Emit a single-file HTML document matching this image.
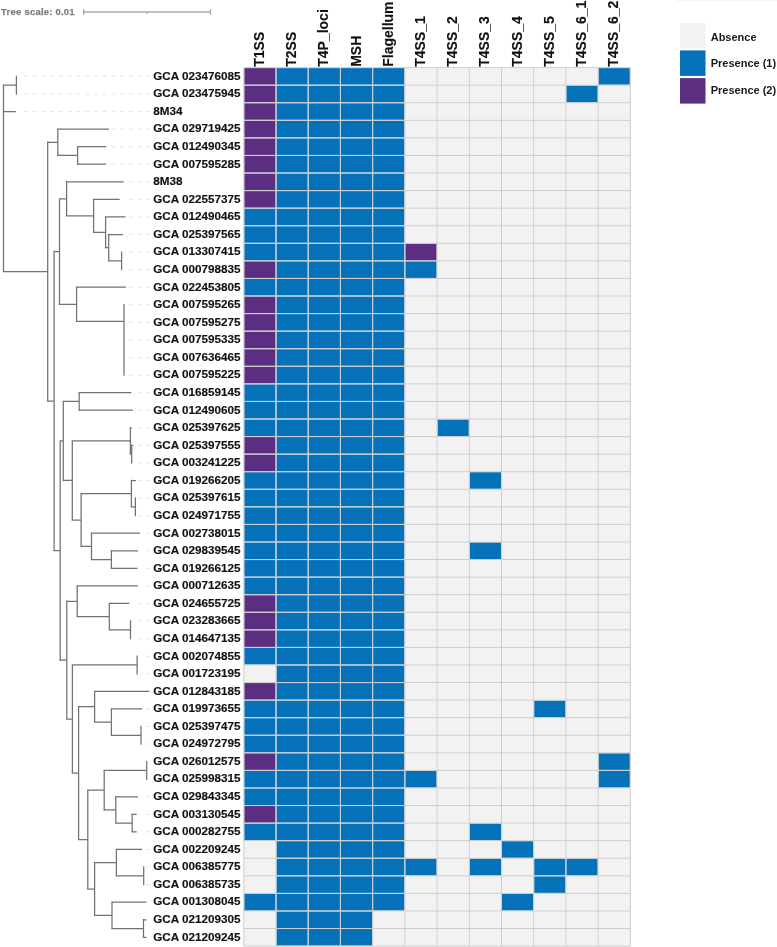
<!DOCTYPE html>
<html><head><meta charset="utf-8"><title>Secretion systems heatmap</title>
<style>html,body{margin:0;padding:0;background:#fff;}svg{display:block;will-change:transform;}text{font-family:"Liberation Sans",sans-serif;font-weight:bold;}</style>
</head><body>
<svg width="777" height="947" viewBox="0 0 777 947">
<rect x="676" y="0" width="101" height="1.2" fill="#f6f6f6"/>
<text x="1.1" y="14.9" font-size="9.5" letter-spacing="0.22" fill="#7f7f7f" stroke="#7f7f7f" stroke-width="0.25">Tree scale: 0.01</text>
<g stroke="#aaa" stroke-width="1.4" fill="none"><line x1="83.7" y1="12" x2="210.5" y2="12"/><line x1="83.7" y1="9.2" x2="83.7" y2="14.6"/><line x1="210.5" y1="9.2" x2="210.5" y2="14.6"/><line x1="146.8" y1="12" x2="146.8" y2="13.8"/></g>
<path d="M24.00 76.38H27.90M32.74 76.38H36.64M41.48 76.38H45.38M50.22 76.38H54.12M58.96 76.38H62.86M67.70 76.38H71.60M76.44 76.38H80.34M85.18 76.38H89.08M93.92 76.38H97.82M102.66 76.38H106.56M111.40 76.38H115.30M120.14 76.38H124.04M128.88 76.38H132.78M137.62 76.38H141.52M146.36 76.38H150.00M24.00 93.95H27.90M32.74 93.95H36.64M41.48 93.95H45.38M50.22 93.95H54.12M58.96 93.95H62.86M67.70 93.95H71.60M76.44 93.95H80.34M85.18 93.95H89.08M93.92 93.95H97.82M102.66 93.95H106.56M111.40 93.95H115.30M120.14 93.95H124.04M128.88 93.95H132.78M137.62 93.95H141.52M146.36 93.95H150.00M24.00 111.52H27.90M32.74 111.52H36.64M41.48 111.52H45.38M50.22 111.52H54.12M58.96 111.52H62.86M67.70 111.52H71.60M76.44 111.52H80.34M85.18 111.52H89.08M93.92 111.52H97.82M102.66 111.52H106.56M111.40 111.52H115.30M120.14 111.52H124.04M128.88 111.52H132.78M137.62 111.52H141.52M146.36 111.52H150.00M111.40 129.09H115.30M120.14 129.09H124.04M128.88 129.09H132.78M137.62 129.09H141.52M146.36 129.09H150.00M111.40 146.66H115.30M120.14 146.66H124.04M128.88 146.66H132.78M137.62 146.66H141.52M146.36 146.66H150.00M111.40 164.24H115.30M120.14 164.24H124.04M128.88 164.24H132.78M137.62 164.24H141.52M146.36 164.24H150.00M128.88 181.81H132.78M137.62 181.81H141.52M146.36 181.81H150.00M128.88 199.38H132.78M137.62 199.38H141.52M146.36 199.38H150.00M128.88 216.94H132.78M137.62 216.94H141.52M146.36 216.94H150.00M128.88 234.51H132.78M137.62 234.51H141.52M146.36 234.51H150.00M128.88 252.09H132.78M137.62 252.09H141.52M146.36 252.09H150.00M128.88 269.65H132.78M137.62 269.65H141.52M146.36 269.65H150.00M128.88 287.23H132.78M137.62 287.23H141.52M146.36 287.23H150.00M128.88 304.79H132.78M137.62 304.79H141.52M146.36 304.79H150.00M128.88 322.37H132.78M137.62 322.37H141.52M146.36 322.37H150.00M128.88 339.93H132.78M137.62 339.93H141.52M146.36 339.93H150.00M128.88 357.50H132.78M137.62 357.50H141.52M146.36 357.50H150.00M128.88 375.08H132.78M137.62 375.08H141.52M146.36 375.08H150.00M137.62 392.64H141.52M146.36 392.64H150.00M137.62 410.22H141.52M146.36 410.22H150.00M137.62 427.78H141.52M146.36 427.78H150.00M137.62 445.36H141.52M146.36 445.36H150.00M137.62 462.92H141.52M146.36 462.92H150.00M137.62 480.50H141.52M146.36 480.50H150.00M137.62 498.07H141.52M146.36 498.07H150.00M137.62 515.63H141.52M146.36 515.63H150.00M146.36 533.21H150.00M146.36 550.77H150.00M146.36 568.35H150.00M146.36 585.92H150.00M137.62 603.49H141.52M146.36 603.49H150.00M137.62 621.06H141.52M146.36 621.06H150.00M137.62 638.62H141.52M146.36 638.62H150.00M146.36 656.20H150.00M146.36 673.76H150.00M146.36 708.91H150.00M146.36 726.48H150.00M146.36 744.05H150.00M146.36 796.75H150.00M146.36 814.33H150.00M146.36 831.89H150.00M146.36 849.47H150.00M146.36 867.04H150.00M146.36 884.61H150.00" stroke="#e8e8e8" stroke-width="1.1" fill="none"/>
<path d="M16.40 75.68V94.66M2.80 85.17H16.40M2.80 111.52H15.80M57.10 129.09H109.10M76.90 146.66H106.20M76.90 164.24H106.20M77.60 145.97V164.94M57.10 155.45H77.60M57.80 128.40V156.15M47.00 142.27H57.80M65.90 181.81H123.60M92.90 199.38H119.70M104.90 216.94H125.50M108.00 234.51H123.00M121.60 251.39V270.35M108.00 260.87H121.60M108.70 233.81V261.57M104.90 247.69H108.70M105.60 216.25V248.39M92.90 232.32H105.60M93.60 198.68V233.02M65.90 215.85H93.60M66.60 181.11V216.55M58.80 198.83H66.60M75.90 287.23H125.90M124.00 356.81V375.78M124.00 339.23V366.99M124.00 321.67V353.81M124.00 304.09V338.44M75.90 321.27H124.00M76.60 286.53V321.97M58.80 304.25H76.60M59.50 198.13V304.95M53.40 251.54H59.50M78.50 392.64H131.30M78.50 410.22H132.80M79.20 391.94V410.92M62.60 401.43H79.20M129.70 427.78H131.70M131.00 445.36H133.40M131.00 462.92H132.20M131.70 444.66V463.62M129.70 454.14H131.70M130.40 427.08V454.84M71.60 440.96H130.40M130.70 480.50H135.90M135.40 497.37V516.34M130.70 506.85H135.40M131.40 479.80V507.55M80.40 493.67H131.40M90.80 533.21H140.00M110.70 550.77H138.00M110.70 568.35H137.50M111.40 550.07V569.05M90.80 559.56H111.40M91.50 532.50V560.26M80.40 546.38H91.50M81.10 492.97V547.08M71.60 520.03H81.10M72.30 440.26V520.73M62.60 480.49H72.30M63.30 400.73V481.19M59.50 440.96H63.30M76.50 585.92H138.00M108.60 603.49H129.30M130.50 620.36V639.33M108.60 629.84H130.50M109.30 602.78V630.54M76.50 616.66H109.30M77.20 585.22V617.36M66.10 601.29H77.20M137.10 655.50V674.47M71.70 664.98H137.10M93.90 691.34H149.40M110.70 708.91H142.20M141.00 725.77V744.75M110.70 735.26H141.00M111.40 708.21V735.96M93.90 722.08H111.40M94.60 690.63V722.78M77.90 706.71H94.60M146.70 760.91V779.89M103.50 770.40H146.70M115.10 796.75H138.00M131.50 814.33H136.70M131.50 831.89H136.70M132.20 813.62V832.60M115.10 823.11H132.20M115.80 796.05V823.81M103.50 809.93H115.80M104.20 769.70V810.63M87.10 790.17H104.20M115.70 849.47H142.10M143.70 866.34V885.31M115.70 875.82H143.70M116.40 848.76V876.52M93.90 862.64H116.40M111.30 902.18H146.50M142.80 919.75H146.50M142.80 937.32H146.50M143.50 919.04V938.02M111.30 928.53H143.50M112.00 901.48V929.23M93.90 915.35H112.00M94.60 861.94V916.05M87.10 889.00H94.60M87.80 789.47V889.70M77.90 839.58H87.80M78.60 706.01V840.28M71.70 773.15H78.60M72.40 664.28V773.85M66.10 719.06H72.40M66.80 600.59V719.76M59.50 660.18H66.80M60.20 440.26V660.88M53.40 550.57H60.20M54.10 250.84V551.27M47.00 401.05H54.10M47.70 141.57V401.75M2.80 271.66H47.70M3.50 84.47V272.36" stroke="#76716d" stroke-width="1.25" fill="none"/>
<g font-size="11.7" fill="#111" stroke="#111" stroke-width="0.15">
<text x="153.2" y="79.68">GCA 023476085</text>
<text x="153.2" y="97.25">GCA 023475945</text>
<text x="153.2" y="114.82">8M34</text>
<text x="153.2" y="132.40">GCA 029719425</text>
<text x="153.2" y="149.97">GCA 012490345</text>
<text x="153.2" y="167.54">GCA 007595285</text>
<text x="153.2" y="185.11">8M38</text>
<text x="153.2" y="202.68">GCA 022557375</text>
<text x="153.2" y="220.25">GCA 012490465</text>
<text x="153.2" y="237.81">GCA 025397565</text>
<text x="153.2" y="255.39">GCA 013307415</text>
<text x="153.2" y="272.95">GCA 000798835</text>
<text x="153.2" y="290.53">GCA 022453805</text>
<text x="153.2" y="308.09">GCA 007595265</text>
<text x="153.2" y="325.67">GCA 007595275</text>
<text x="153.2" y="343.23">GCA 007595335</text>
<text x="153.2" y="360.81">GCA 007636465</text>
<text x="153.2" y="378.38">GCA 007595225</text>
<text x="153.2" y="395.94">GCA 016859145</text>
<text x="153.2" y="413.52">GCA 012490605</text>
<text x="153.2" y="431.08">GCA 025397625</text>
<text x="153.2" y="448.66">GCA 025397555</text>
<text x="153.2" y="466.22">GCA 003241225</text>
<text x="153.2" y="483.80">GCA 019266205</text>
<text x="153.2" y="501.37">GCA 025397615</text>
<text x="153.2" y="518.93">GCA 024971755</text>
<text x="153.2" y="536.50">GCA 002738015</text>
<text x="153.2" y="554.07">GCA 029839545</text>
<text x="153.2" y="571.64">GCA 019266125</text>
<text x="153.2" y="589.22">GCA 000712635</text>
<text x="153.2" y="606.78">GCA 024655725</text>
<text x="153.2" y="624.36">GCA 023283665</text>
<text x="153.2" y="641.92">GCA 014647135</text>
<text x="153.2" y="659.50">GCA 002074855</text>
<text x="153.2" y="677.06">GCA 001723195</text>
<text x="153.2" y="694.63">GCA 012843185</text>
<text x="153.2" y="712.21">GCA 019973655</text>
<text x="153.2" y="729.77">GCA 025397475</text>
<text x="153.2" y="747.35">GCA 024972795</text>
<text x="153.2" y="764.91">GCA 026012575</text>
<text x="153.2" y="782.49">GCA 025998315</text>
<text x="153.2" y="800.05">GCA 029843345</text>
<text x="153.2" y="817.62">GCA 003130545</text>
<text x="153.2" y="835.19">GCA 000282755</text>
<text x="153.2" y="852.76">GCA 002209245</text>
<text x="153.2" y="870.34">GCA 006385775</text>
<text x="153.2" y="887.90">GCA 006385735</text>
<text x="153.2" y="905.48">GCA 001308045</text>
<text x="153.2" y="923.04">GCA 021209305</text>
<text x="153.2" y="940.62">GCA 021209245</text>
</g>
<g>
<rect x="244.30" y="68.10" width="31.21" height="16.57" fill="#5c2e81"/>
<rect x="276.51" y="68.10" width="31.21" height="16.57" fill="#0571b9"/>
<rect x="308.72" y="68.10" width="31.21" height="16.57" fill="#0571b9"/>
<rect x="340.93" y="68.10" width="31.21" height="16.57" fill="#0571b9"/>
<rect x="373.14" y="68.10" width="31.21" height="16.57" fill="#0571b9"/>
<rect x="405.35" y="68.10" width="31.21" height="16.57" fill="#f2f2f2"/>
<rect x="437.56" y="68.10" width="31.21" height="16.57" fill="#f2f2f2"/>
<rect x="469.77" y="68.10" width="31.21" height="16.57" fill="#f2f2f2"/>
<rect x="501.98" y="68.10" width="31.21" height="16.57" fill="#f2f2f2"/>
<rect x="534.19" y="68.10" width="31.21" height="16.57" fill="#f2f2f2"/>
<rect x="566.40" y="68.10" width="31.21" height="16.57" fill="#f2f2f2"/>
<rect x="598.61" y="68.10" width="31.21" height="16.57" fill="#0571b9"/>
<rect x="244.30" y="85.67" width="31.21" height="16.57" fill="#5c2e81"/>
<rect x="276.51" y="85.67" width="31.21" height="16.57" fill="#0571b9"/>
<rect x="308.72" y="85.67" width="31.21" height="16.57" fill="#0571b9"/>
<rect x="340.93" y="85.67" width="31.21" height="16.57" fill="#0571b9"/>
<rect x="373.14" y="85.67" width="31.21" height="16.57" fill="#0571b9"/>
<rect x="405.35" y="85.67" width="31.21" height="16.57" fill="#f2f2f2"/>
<rect x="437.56" y="85.67" width="31.21" height="16.57" fill="#f2f2f2"/>
<rect x="469.77" y="85.67" width="31.21" height="16.57" fill="#f2f2f2"/>
<rect x="501.98" y="85.67" width="31.21" height="16.57" fill="#f2f2f2"/>
<rect x="534.19" y="85.67" width="31.21" height="16.57" fill="#f2f2f2"/>
<rect x="566.40" y="85.67" width="31.21" height="16.57" fill="#0571b9"/>
<rect x="598.61" y="85.67" width="31.21" height="16.57" fill="#f2f2f2"/>
<rect x="244.30" y="103.24" width="31.21" height="16.57" fill="#5c2e81"/>
<rect x="276.51" y="103.24" width="31.21" height="16.57" fill="#0571b9"/>
<rect x="308.72" y="103.24" width="31.21" height="16.57" fill="#0571b9"/>
<rect x="340.93" y="103.24" width="31.21" height="16.57" fill="#0571b9"/>
<rect x="373.14" y="103.24" width="31.21" height="16.57" fill="#0571b9"/>
<rect x="405.35" y="103.24" width="31.21" height="16.57" fill="#f2f2f2"/>
<rect x="437.56" y="103.24" width="31.21" height="16.57" fill="#f2f2f2"/>
<rect x="469.77" y="103.24" width="31.21" height="16.57" fill="#f2f2f2"/>
<rect x="501.98" y="103.24" width="31.21" height="16.57" fill="#f2f2f2"/>
<rect x="534.19" y="103.24" width="31.21" height="16.57" fill="#f2f2f2"/>
<rect x="566.40" y="103.24" width="31.21" height="16.57" fill="#f2f2f2"/>
<rect x="598.61" y="103.24" width="31.21" height="16.57" fill="#f2f2f2"/>
<rect x="244.30" y="120.81" width="31.21" height="16.57" fill="#5c2e81"/>
<rect x="276.51" y="120.81" width="31.21" height="16.57" fill="#0571b9"/>
<rect x="308.72" y="120.81" width="31.21" height="16.57" fill="#0571b9"/>
<rect x="340.93" y="120.81" width="31.21" height="16.57" fill="#0571b9"/>
<rect x="373.14" y="120.81" width="31.21" height="16.57" fill="#0571b9"/>
<rect x="405.35" y="120.81" width="31.21" height="16.57" fill="#f2f2f2"/>
<rect x="437.56" y="120.81" width="31.21" height="16.57" fill="#f2f2f2"/>
<rect x="469.77" y="120.81" width="31.21" height="16.57" fill="#f2f2f2"/>
<rect x="501.98" y="120.81" width="31.21" height="16.57" fill="#f2f2f2"/>
<rect x="534.19" y="120.81" width="31.21" height="16.57" fill="#f2f2f2"/>
<rect x="566.40" y="120.81" width="31.21" height="16.57" fill="#f2f2f2"/>
<rect x="598.61" y="120.81" width="31.21" height="16.57" fill="#f2f2f2"/>
<rect x="244.30" y="138.38" width="31.21" height="16.57" fill="#5c2e81"/>
<rect x="276.51" y="138.38" width="31.21" height="16.57" fill="#0571b9"/>
<rect x="308.72" y="138.38" width="31.21" height="16.57" fill="#0571b9"/>
<rect x="340.93" y="138.38" width="31.21" height="16.57" fill="#0571b9"/>
<rect x="373.14" y="138.38" width="31.21" height="16.57" fill="#0571b9"/>
<rect x="405.35" y="138.38" width="31.21" height="16.57" fill="#f2f2f2"/>
<rect x="437.56" y="138.38" width="31.21" height="16.57" fill="#f2f2f2"/>
<rect x="469.77" y="138.38" width="31.21" height="16.57" fill="#f2f2f2"/>
<rect x="501.98" y="138.38" width="31.21" height="16.57" fill="#f2f2f2"/>
<rect x="534.19" y="138.38" width="31.21" height="16.57" fill="#f2f2f2"/>
<rect x="566.40" y="138.38" width="31.21" height="16.57" fill="#f2f2f2"/>
<rect x="598.61" y="138.38" width="31.21" height="16.57" fill="#f2f2f2"/>
<rect x="244.30" y="155.95" width="31.21" height="16.57" fill="#5c2e81"/>
<rect x="276.51" y="155.95" width="31.21" height="16.57" fill="#0571b9"/>
<rect x="308.72" y="155.95" width="31.21" height="16.57" fill="#0571b9"/>
<rect x="340.93" y="155.95" width="31.21" height="16.57" fill="#0571b9"/>
<rect x="373.14" y="155.95" width="31.21" height="16.57" fill="#0571b9"/>
<rect x="405.35" y="155.95" width="31.21" height="16.57" fill="#f2f2f2"/>
<rect x="437.56" y="155.95" width="31.21" height="16.57" fill="#f2f2f2"/>
<rect x="469.77" y="155.95" width="31.21" height="16.57" fill="#f2f2f2"/>
<rect x="501.98" y="155.95" width="31.21" height="16.57" fill="#f2f2f2"/>
<rect x="534.19" y="155.95" width="31.21" height="16.57" fill="#f2f2f2"/>
<rect x="566.40" y="155.95" width="31.21" height="16.57" fill="#f2f2f2"/>
<rect x="598.61" y="155.95" width="31.21" height="16.57" fill="#f2f2f2"/>
<rect x="244.30" y="173.52" width="31.21" height="16.57" fill="#5c2e81"/>
<rect x="276.51" y="173.52" width="31.21" height="16.57" fill="#0571b9"/>
<rect x="308.72" y="173.52" width="31.21" height="16.57" fill="#0571b9"/>
<rect x="340.93" y="173.52" width="31.21" height="16.57" fill="#0571b9"/>
<rect x="373.14" y="173.52" width="31.21" height="16.57" fill="#0571b9"/>
<rect x="405.35" y="173.52" width="31.21" height="16.57" fill="#f2f2f2"/>
<rect x="437.56" y="173.52" width="31.21" height="16.57" fill="#f2f2f2"/>
<rect x="469.77" y="173.52" width="31.21" height="16.57" fill="#f2f2f2"/>
<rect x="501.98" y="173.52" width="31.21" height="16.57" fill="#f2f2f2"/>
<rect x="534.19" y="173.52" width="31.21" height="16.57" fill="#f2f2f2"/>
<rect x="566.40" y="173.52" width="31.21" height="16.57" fill="#f2f2f2"/>
<rect x="598.61" y="173.52" width="31.21" height="16.57" fill="#f2f2f2"/>
<rect x="244.30" y="191.09" width="31.21" height="16.57" fill="#5c2e81"/>
<rect x="276.51" y="191.09" width="31.21" height="16.57" fill="#0571b9"/>
<rect x="308.72" y="191.09" width="31.21" height="16.57" fill="#0571b9"/>
<rect x="340.93" y="191.09" width="31.21" height="16.57" fill="#0571b9"/>
<rect x="373.14" y="191.09" width="31.21" height="16.57" fill="#0571b9"/>
<rect x="405.35" y="191.09" width="31.21" height="16.57" fill="#f2f2f2"/>
<rect x="437.56" y="191.09" width="31.21" height="16.57" fill="#f2f2f2"/>
<rect x="469.77" y="191.09" width="31.21" height="16.57" fill="#f2f2f2"/>
<rect x="501.98" y="191.09" width="31.21" height="16.57" fill="#f2f2f2"/>
<rect x="534.19" y="191.09" width="31.21" height="16.57" fill="#f2f2f2"/>
<rect x="566.40" y="191.09" width="31.21" height="16.57" fill="#f2f2f2"/>
<rect x="598.61" y="191.09" width="31.21" height="16.57" fill="#f2f2f2"/>
<rect x="244.30" y="208.66" width="31.21" height="16.57" fill="#0571b9"/>
<rect x="276.51" y="208.66" width="31.21" height="16.57" fill="#0571b9"/>
<rect x="308.72" y="208.66" width="31.21" height="16.57" fill="#0571b9"/>
<rect x="340.93" y="208.66" width="31.21" height="16.57" fill="#0571b9"/>
<rect x="373.14" y="208.66" width="31.21" height="16.57" fill="#0571b9"/>
<rect x="405.35" y="208.66" width="31.21" height="16.57" fill="#f2f2f2"/>
<rect x="437.56" y="208.66" width="31.21" height="16.57" fill="#f2f2f2"/>
<rect x="469.77" y="208.66" width="31.21" height="16.57" fill="#f2f2f2"/>
<rect x="501.98" y="208.66" width="31.21" height="16.57" fill="#f2f2f2"/>
<rect x="534.19" y="208.66" width="31.21" height="16.57" fill="#f2f2f2"/>
<rect x="566.40" y="208.66" width="31.21" height="16.57" fill="#f2f2f2"/>
<rect x="598.61" y="208.66" width="31.21" height="16.57" fill="#f2f2f2"/>
<rect x="244.30" y="226.23" width="31.21" height="16.57" fill="#0571b9"/>
<rect x="276.51" y="226.23" width="31.21" height="16.57" fill="#0571b9"/>
<rect x="308.72" y="226.23" width="31.21" height="16.57" fill="#0571b9"/>
<rect x="340.93" y="226.23" width="31.21" height="16.57" fill="#0571b9"/>
<rect x="373.14" y="226.23" width="31.21" height="16.57" fill="#0571b9"/>
<rect x="405.35" y="226.23" width="31.21" height="16.57" fill="#f2f2f2"/>
<rect x="437.56" y="226.23" width="31.21" height="16.57" fill="#f2f2f2"/>
<rect x="469.77" y="226.23" width="31.21" height="16.57" fill="#f2f2f2"/>
<rect x="501.98" y="226.23" width="31.21" height="16.57" fill="#f2f2f2"/>
<rect x="534.19" y="226.23" width="31.21" height="16.57" fill="#f2f2f2"/>
<rect x="566.40" y="226.23" width="31.21" height="16.57" fill="#f2f2f2"/>
<rect x="598.61" y="226.23" width="31.21" height="16.57" fill="#f2f2f2"/>
<rect x="244.30" y="243.80" width="31.21" height="16.57" fill="#0571b9"/>
<rect x="276.51" y="243.80" width="31.21" height="16.57" fill="#0571b9"/>
<rect x="308.72" y="243.80" width="31.21" height="16.57" fill="#0571b9"/>
<rect x="340.93" y="243.80" width="31.21" height="16.57" fill="#0571b9"/>
<rect x="373.14" y="243.80" width="31.21" height="16.57" fill="#0571b9"/>
<rect x="405.35" y="243.80" width="31.21" height="16.57" fill="#5c2e81"/>
<rect x="437.56" y="243.80" width="31.21" height="16.57" fill="#f2f2f2"/>
<rect x="469.77" y="243.80" width="31.21" height="16.57" fill="#f2f2f2"/>
<rect x="501.98" y="243.80" width="31.21" height="16.57" fill="#f2f2f2"/>
<rect x="534.19" y="243.80" width="31.21" height="16.57" fill="#f2f2f2"/>
<rect x="566.40" y="243.80" width="31.21" height="16.57" fill="#f2f2f2"/>
<rect x="598.61" y="243.80" width="31.21" height="16.57" fill="#f2f2f2"/>
<rect x="244.30" y="261.37" width="31.21" height="16.57" fill="#5c2e81"/>
<rect x="276.51" y="261.37" width="31.21" height="16.57" fill="#0571b9"/>
<rect x="308.72" y="261.37" width="31.21" height="16.57" fill="#0571b9"/>
<rect x="340.93" y="261.37" width="31.21" height="16.57" fill="#0571b9"/>
<rect x="373.14" y="261.37" width="31.21" height="16.57" fill="#0571b9"/>
<rect x="405.35" y="261.37" width="31.21" height="16.57" fill="#0571b9"/>
<rect x="437.56" y="261.37" width="31.21" height="16.57" fill="#f2f2f2"/>
<rect x="469.77" y="261.37" width="31.21" height="16.57" fill="#f2f2f2"/>
<rect x="501.98" y="261.37" width="31.21" height="16.57" fill="#f2f2f2"/>
<rect x="534.19" y="261.37" width="31.21" height="16.57" fill="#f2f2f2"/>
<rect x="566.40" y="261.37" width="31.21" height="16.57" fill="#f2f2f2"/>
<rect x="598.61" y="261.37" width="31.21" height="16.57" fill="#f2f2f2"/>
<rect x="244.30" y="278.94" width="31.21" height="16.57" fill="#0571b9"/>
<rect x="276.51" y="278.94" width="31.21" height="16.57" fill="#0571b9"/>
<rect x="308.72" y="278.94" width="31.21" height="16.57" fill="#0571b9"/>
<rect x="340.93" y="278.94" width="31.21" height="16.57" fill="#0571b9"/>
<rect x="373.14" y="278.94" width="31.21" height="16.57" fill="#0571b9"/>
<rect x="405.35" y="278.94" width="31.21" height="16.57" fill="#f2f2f2"/>
<rect x="437.56" y="278.94" width="31.21" height="16.57" fill="#f2f2f2"/>
<rect x="469.77" y="278.94" width="31.21" height="16.57" fill="#f2f2f2"/>
<rect x="501.98" y="278.94" width="31.21" height="16.57" fill="#f2f2f2"/>
<rect x="534.19" y="278.94" width="31.21" height="16.57" fill="#f2f2f2"/>
<rect x="566.40" y="278.94" width="31.21" height="16.57" fill="#f2f2f2"/>
<rect x="598.61" y="278.94" width="31.21" height="16.57" fill="#f2f2f2"/>
<rect x="244.30" y="296.51" width="31.21" height="16.57" fill="#5c2e81"/>
<rect x="276.51" y="296.51" width="31.21" height="16.57" fill="#0571b9"/>
<rect x="308.72" y="296.51" width="31.21" height="16.57" fill="#0571b9"/>
<rect x="340.93" y="296.51" width="31.21" height="16.57" fill="#0571b9"/>
<rect x="373.14" y="296.51" width="31.21" height="16.57" fill="#0571b9"/>
<rect x="405.35" y="296.51" width="31.21" height="16.57" fill="#f2f2f2"/>
<rect x="437.56" y="296.51" width="31.21" height="16.57" fill="#f2f2f2"/>
<rect x="469.77" y="296.51" width="31.21" height="16.57" fill="#f2f2f2"/>
<rect x="501.98" y="296.51" width="31.21" height="16.57" fill="#f2f2f2"/>
<rect x="534.19" y="296.51" width="31.21" height="16.57" fill="#f2f2f2"/>
<rect x="566.40" y="296.51" width="31.21" height="16.57" fill="#f2f2f2"/>
<rect x="598.61" y="296.51" width="31.21" height="16.57" fill="#f2f2f2"/>
<rect x="244.30" y="314.08" width="31.21" height="16.57" fill="#5c2e81"/>
<rect x="276.51" y="314.08" width="31.21" height="16.57" fill="#0571b9"/>
<rect x="308.72" y="314.08" width="31.21" height="16.57" fill="#0571b9"/>
<rect x="340.93" y="314.08" width="31.21" height="16.57" fill="#0571b9"/>
<rect x="373.14" y="314.08" width="31.21" height="16.57" fill="#0571b9"/>
<rect x="405.35" y="314.08" width="31.21" height="16.57" fill="#f2f2f2"/>
<rect x="437.56" y="314.08" width="31.21" height="16.57" fill="#f2f2f2"/>
<rect x="469.77" y="314.08" width="31.21" height="16.57" fill="#f2f2f2"/>
<rect x="501.98" y="314.08" width="31.21" height="16.57" fill="#f2f2f2"/>
<rect x="534.19" y="314.08" width="31.21" height="16.57" fill="#f2f2f2"/>
<rect x="566.40" y="314.08" width="31.21" height="16.57" fill="#f2f2f2"/>
<rect x="598.61" y="314.08" width="31.21" height="16.57" fill="#f2f2f2"/>
<rect x="244.30" y="331.65" width="31.21" height="16.57" fill="#5c2e81"/>
<rect x="276.51" y="331.65" width="31.21" height="16.57" fill="#0571b9"/>
<rect x="308.72" y="331.65" width="31.21" height="16.57" fill="#0571b9"/>
<rect x="340.93" y="331.65" width="31.21" height="16.57" fill="#0571b9"/>
<rect x="373.14" y="331.65" width="31.21" height="16.57" fill="#0571b9"/>
<rect x="405.35" y="331.65" width="31.21" height="16.57" fill="#f2f2f2"/>
<rect x="437.56" y="331.65" width="31.21" height="16.57" fill="#f2f2f2"/>
<rect x="469.77" y="331.65" width="31.21" height="16.57" fill="#f2f2f2"/>
<rect x="501.98" y="331.65" width="31.21" height="16.57" fill="#f2f2f2"/>
<rect x="534.19" y="331.65" width="31.21" height="16.57" fill="#f2f2f2"/>
<rect x="566.40" y="331.65" width="31.21" height="16.57" fill="#f2f2f2"/>
<rect x="598.61" y="331.65" width="31.21" height="16.57" fill="#f2f2f2"/>
<rect x="244.30" y="349.22" width="31.21" height="16.57" fill="#5c2e81"/>
<rect x="276.51" y="349.22" width="31.21" height="16.57" fill="#0571b9"/>
<rect x="308.72" y="349.22" width="31.21" height="16.57" fill="#0571b9"/>
<rect x="340.93" y="349.22" width="31.21" height="16.57" fill="#0571b9"/>
<rect x="373.14" y="349.22" width="31.21" height="16.57" fill="#0571b9"/>
<rect x="405.35" y="349.22" width="31.21" height="16.57" fill="#f2f2f2"/>
<rect x="437.56" y="349.22" width="31.21" height="16.57" fill="#f2f2f2"/>
<rect x="469.77" y="349.22" width="31.21" height="16.57" fill="#f2f2f2"/>
<rect x="501.98" y="349.22" width="31.21" height="16.57" fill="#f2f2f2"/>
<rect x="534.19" y="349.22" width="31.21" height="16.57" fill="#f2f2f2"/>
<rect x="566.40" y="349.22" width="31.21" height="16.57" fill="#f2f2f2"/>
<rect x="598.61" y="349.22" width="31.21" height="16.57" fill="#f2f2f2"/>
<rect x="244.30" y="366.79" width="31.21" height="16.57" fill="#5c2e81"/>
<rect x="276.51" y="366.79" width="31.21" height="16.57" fill="#0571b9"/>
<rect x="308.72" y="366.79" width="31.21" height="16.57" fill="#0571b9"/>
<rect x="340.93" y="366.79" width="31.21" height="16.57" fill="#0571b9"/>
<rect x="373.14" y="366.79" width="31.21" height="16.57" fill="#0571b9"/>
<rect x="405.35" y="366.79" width="31.21" height="16.57" fill="#f2f2f2"/>
<rect x="437.56" y="366.79" width="31.21" height="16.57" fill="#f2f2f2"/>
<rect x="469.77" y="366.79" width="31.21" height="16.57" fill="#f2f2f2"/>
<rect x="501.98" y="366.79" width="31.21" height="16.57" fill="#f2f2f2"/>
<rect x="534.19" y="366.79" width="31.21" height="16.57" fill="#f2f2f2"/>
<rect x="566.40" y="366.79" width="31.21" height="16.57" fill="#f2f2f2"/>
<rect x="598.61" y="366.79" width="31.21" height="16.57" fill="#f2f2f2"/>
<rect x="244.30" y="384.36" width="31.21" height="16.57" fill="#0571b9"/>
<rect x="276.51" y="384.36" width="31.21" height="16.57" fill="#0571b9"/>
<rect x="308.72" y="384.36" width="31.21" height="16.57" fill="#0571b9"/>
<rect x="340.93" y="384.36" width="31.21" height="16.57" fill="#0571b9"/>
<rect x="373.14" y="384.36" width="31.21" height="16.57" fill="#0571b9"/>
<rect x="405.35" y="384.36" width="31.21" height="16.57" fill="#f2f2f2"/>
<rect x="437.56" y="384.36" width="31.21" height="16.57" fill="#f2f2f2"/>
<rect x="469.77" y="384.36" width="31.21" height="16.57" fill="#f2f2f2"/>
<rect x="501.98" y="384.36" width="31.21" height="16.57" fill="#f2f2f2"/>
<rect x="534.19" y="384.36" width="31.21" height="16.57" fill="#f2f2f2"/>
<rect x="566.40" y="384.36" width="31.21" height="16.57" fill="#f2f2f2"/>
<rect x="598.61" y="384.36" width="31.21" height="16.57" fill="#f2f2f2"/>
<rect x="244.30" y="401.93" width="31.21" height="16.57" fill="#0571b9"/>
<rect x="276.51" y="401.93" width="31.21" height="16.57" fill="#0571b9"/>
<rect x="308.72" y="401.93" width="31.21" height="16.57" fill="#0571b9"/>
<rect x="340.93" y="401.93" width="31.21" height="16.57" fill="#0571b9"/>
<rect x="373.14" y="401.93" width="31.21" height="16.57" fill="#0571b9"/>
<rect x="405.35" y="401.93" width="31.21" height="16.57" fill="#f2f2f2"/>
<rect x="437.56" y="401.93" width="31.21" height="16.57" fill="#f2f2f2"/>
<rect x="469.77" y="401.93" width="31.21" height="16.57" fill="#f2f2f2"/>
<rect x="501.98" y="401.93" width="31.21" height="16.57" fill="#f2f2f2"/>
<rect x="534.19" y="401.93" width="31.21" height="16.57" fill="#f2f2f2"/>
<rect x="566.40" y="401.93" width="31.21" height="16.57" fill="#f2f2f2"/>
<rect x="598.61" y="401.93" width="31.21" height="16.57" fill="#f2f2f2"/>
<rect x="244.30" y="419.50" width="31.21" height="16.57" fill="#0571b9"/>
<rect x="276.51" y="419.50" width="31.21" height="16.57" fill="#0571b9"/>
<rect x="308.72" y="419.50" width="31.21" height="16.57" fill="#0571b9"/>
<rect x="340.93" y="419.50" width="31.21" height="16.57" fill="#0571b9"/>
<rect x="373.14" y="419.50" width="31.21" height="16.57" fill="#0571b9"/>
<rect x="405.35" y="419.50" width="31.21" height="16.57" fill="#f2f2f2"/>
<rect x="437.56" y="419.50" width="31.21" height="16.57" fill="#0571b9"/>
<rect x="469.77" y="419.50" width="31.21" height="16.57" fill="#f2f2f2"/>
<rect x="501.98" y="419.50" width="31.21" height="16.57" fill="#f2f2f2"/>
<rect x="534.19" y="419.50" width="31.21" height="16.57" fill="#f2f2f2"/>
<rect x="566.40" y="419.50" width="31.21" height="16.57" fill="#f2f2f2"/>
<rect x="598.61" y="419.50" width="31.21" height="16.57" fill="#f2f2f2"/>
<rect x="244.30" y="437.07" width="31.21" height="16.57" fill="#5c2e81"/>
<rect x="276.51" y="437.07" width="31.21" height="16.57" fill="#0571b9"/>
<rect x="308.72" y="437.07" width="31.21" height="16.57" fill="#0571b9"/>
<rect x="340.93" y="437.07" width="31.21" height="16.57" fill="#0571b9"/>
<rect x="373.14" y="437.07" width="31.21" height="16.57" fill="#0571b9"/>
<rect x="405.35" y="437.07" width="31.21" height="16.57" fill="#f2f2f2"/>
<rect x="437.56" y="437.07" width="31.21" height="16.57" fill="#f2f2f2"/>
<rect x="469.77" y="437.07" width="31.21" height="16.57" fill="#f2f2f2"/>
<rect x="501.98" y="437.07" width="31.21" height="16.57" fill="#f2f2f2"/>
<rect x="534.19" y="437.07" width="31.21" height="16.57" fill="#f2f2f2"/>
<rect x="566.40" y="437.07" width="31.21" height="16.57" fill="#f2f2f2"/>
<rect x="598.61" y="437.07" width="31.21" height="16.57" fill="#f2f2f2"/>
<rect x="244.30" y="454.64" width="31.21" height="16.57" fill="#5c2e81"/>
<rect x="276.51" y="454.64" width="31.21" height="16.57" fill="#0571b9"/>
<rect x="308.72" y="454.64" width="31.21" height="16.57" fill="#0571b9"/>
<rect x="340.93" y="454.64" width="31.21" height="16.57" fill="#0571b9"/>
<rect x="373.14" y="454.64" width="31.21" height="16.57" fill="#0571b9"/>
<rect x="405.35" y="454.64" width="31.21" height="16.57" fill="#f2f2f2"/>
<rect x="437.56" y="454.64" width="31.21" height="16.57" fill="#f2f2f2"/>
<rect x="469.77" y="454.64" width="31.21" height="16.57" fill="#f2f2f2"/>
<rect x="501.98" y="454.64" width="31.21" height="16.57" fill="#f2f2f2"/>
<rect x="534.19" y="454.64" width="31.21" height="16.57" fill="#f2f2f2"/>
<rect x="566.40" y="454.64" width="31.21" height="16.57" fill="#f2f2f2"/>
<rect x="598.61" y="454.64" width="31.21" height="16.57" fill="#f2f2f2"/>
<rect x="244.30" y="472.21" width="31.21" height="16.57" fill="#0571b9"/>
<rect x="276.51" y="472.21" width="31.21" height="16.57" fill="#0571b9"/>
<rect x="308.72" y="472.21" width="31.21" height="16.57" fill="#0571b9"/>
<rect x="340.93" y="472.21" width="31.21" height="16.57" fill="#0571b9"/>
<rect x="373.14" y="472.21" width="31.21" height="16.57" fill="#0571b9"/>
<rect x="405.35" y="472.21" width="31.21" height="16.57" fill="#f2f2f2"/>
<rect x="437.56" y="472.21" width="31.21" height="16.57" fill="#f2f2f2"/>
<rect x="469.77" y="472.21" width="31.21" height="16.57" fill="#0571b9"/>
<rect x="501.98" y="472.21" width="31.21" height="16.57" fill="#f2f2f2"/>
<rect x="534.19" y="472.21" width="31.21" height="16.57" fill="#f2f2f2"/>
<rect x="566.40" y="472.21" width="31.21" height="16.57" fill="#f2f2f2"/>
<rect x="598.61" y="472.21" width="31.21" height="16.57" fill="#f2f2f2"/>
<rect x="244.30" y="489.78" width="31.21" height="16.57" fill="#0571b9"/>
<rect x="276.51" y="489.78" width="31.21" height="16.57" fill="#0571b9"/>
<rect x="308.72" y="489.78" width="31.21" height="16.57" fill="#0571b9"/>
<rect x="340.93" y="489.78" width="31.21" height="16.57" fill="#0571b9"/>
<rect x="373.14" y="489.78" width="31.21" height="16.57" fill="#0571b9"/>
<rect x="405.35" y="489.78" width="31.21" height="16.57" fill="#f2f2f2"/>
<rect x="437.56" y="489.78" width="31.21" height="16.57" fill="#f2f2f2"/>
<rect x="469.77" y="489.78" width="31.21" height="16.57" fill="#f2f2f2"/>
<rect x="501.98" y="489.78" width="31.21" height="16.57" fill="#f2f2f2"/>
<rect x="534.19" y="489.78" width="31.21" height="16.57" fill="#f2f2f2"/>
<rect x="566.40" y="489.78" width="31.21" height="16.57" fill="#f2f2f2"/>
<rect x="598.61" y="489.78" width="31.21" height="16.57" fill="#f2f2f2"/>
<rect x="244.30" y="507.35" width="31.21" height="16.57" fill="#0571b9"/>
<rect x="276.51" y="507.35" width="31.21" height="16.57" fill="#0571b9"/>
<rect x="308.72" y="507.35" width="31.21" height="16.57" fill="#0571b9"/>
<rect x="340.93" y="507.35" width="31.21" height="16.57" fill="#0571b9"/>
<rect x="373.14" y="507.35" width="31.21" height="16.57" fill="#0571b9"/>
<rect x="405.35" y="507.35" width="31.21" height="16.57" fill="#f2f2f2"/>
<rect x="437.56" y="507.35" width="31.21" height="16.57" fill="#f2f2f2"/>
<rect x="469.77" y="507.35" width="31.21" height="16.57" fill="#f2f2f2"/>
<rect x="501.98" y="507.35" width="31.21" height="16.57" fill="#f2f2f2"/>
<rect x="534.19" y="507.35" width="31.21" height="16.57" fill="#f2f2f2"/>
<rect x="566.40" y="507.35" width="31.21" height="16.57" fill="#f2f2f2"/>
<rect x="598.61" y="507.35" width="31.21" height="16.57" fill="#f2f2f2"/>
<rect x="244.30" y="524.92" width="31.21" height="16.57" fill="#0571b9"/>
<rect x="276.51" y="524.92" width="31.21" height="16.57" fill="#0571b9"/>
<rect x="308.72" y="524.92" width="31.21" height="16.57" fill="#0571b9"/>
<rect x="340.93" y="524.92" width="31.21" height="16.57" fill="#0571b9"/>
<rect x="373.14" y="524.92" width="31.21" height="16.57" fill="#0571b9"/>
<rect x="405.35" y="524.92" width="31.21" height="16.57" fill="#f2f2f2"/>
<rect x="437.56" y="524.92" width="31.21" height="16.57" fill="#f2f2f2"/>
<rect x="469.77" y="524.92" width="31.21" height="16.57" fill="#f2f2f2"/>
<rect x="501.98" y="524.92" width="31.21" height="16.57" fill="#f2f2f2"/>
<rect x="534.19" y="524.92" width="31.21" height="16.57" fill="#f2f2f2"/>
<rect x="566.40" y="524.92" width="31.21" height="16.57" fill="#f2f2f2"/>
<rect x="598.61" y="524.92" width="31.21" height="16.57" fill="#f2f2f2"/>
<rect x="244.30" y="542.49" width="31.21" height="16.57" fill="#0571b9"/>
<rect x="276.51" y="542.49" width="31.21" height="16.57" fill="#0571b9"/>
<rect x="308.72" y="542.49" width="31.21" height="16.57" fill="#0571b9"/>
<rect x="340.93" y="542.49" width="31.21" height="16.57" fill="#0571b9"/>
<rect x="373.14" y="542.49" width="31.21" height="16.57" fill="#0571b9"/>
<rect x="405.35" y="542.49" width="31.21" height="16.57" fill="#f2f2f2"/>
<rect x="437.56" y="542.49" width="31.21" height="16.57" fill="#f2f2f2"/>
<rect x="469.77" y="542.49" width="31.21" height="16.57" fill="#0571b9"/>
<rect x="501.98" y="542.49" width="31.21" height="16.57" fill="#f2f2f2"/>
<rect x="534.19" y="542.49" width="31.21" height="16.57" fill="#f2f2f2"/>
<rect x="566.40" y="542.49" width="31.21" height="16.57" fill="#f2f2f2"/>
<rect x="598.61" y="542.49" width="31.21" height="16.57" fill="#f2f2f2"/>
<rect x="244.30" y="560.06" width="31.21" height="16.57" fill="#0571b9"/>
<rect x="276.51" y="560.06" width="31.21" height="16.57" fill="#0571b9"/>
<rect x="308.72" y="560.06" width="31.21" height="16.57" fill="#0571b9"/>
<rect x="340.93" y="560.06" width="31.21" height="16.57" fill="#0571b9"/>
<rect x="373.14" y="560.06" width="31.21" height="16.57" fill="#0571b9"/>
<rect x="405.35" y="560.06" width="31.21" height="16.57" fill="#f2f2f2"/>
<rect x="437.56" y="560.06" width="31.21" height="16.57" fill="#f2f2f2"/>
<rect x="469.77" y="560.06" width="31.21" height="16.57" fill="#f2f2f2"/>
<rect x="501.98" y="560.06" width="31.21" height="16.57" fill="#f2f2f2"/>
<rect x="534.19" y="560.06" width="31.21" height="16.57" fill="#f2f2f2"/>
<rect x="566.40" y="560.06" width="31.21" height="16.57" fill="#f2f2f2"/>
<rect x="598.61" y="560.06" width="31.21" height="16.57" fill="#f2f2f2"/>
<rect x="244.30" y="577.63" width="31.21" height="16.57" fill="#0571b9"/>
<rect x="276.51" y="577.63" width="31.21" height="16.57" fill="#0571b9"/>
<rect x="308.72" y="577.63" width="31.21" height="16.57" fill="#0571b9"/>
<rect x="340.93" y="577.63" width="31.21" height="16.57" fill="#0571b9"/>
<rect x="373.14" y="577.63" width="31.21" height="16.57" fill="#0571b9"/>
<rect x="405.35" y="577.63" width="31.21" height="16.57" fill="#f2f2f2"/>
<rect x="437.56" y="577.63" width="31.21" height="16.57" fill="#f2f2f2"/>
<rect x="469.77" y="577.63" width="31.21" height="16.57" fill="#f2f2f2"/>
<rect x="501.98" y="577.63" width="31.21" height="16.57" fill="#f2f2f2"/>
<rect x="534.19" y="577.63" width="31.21" height="16.57" fill="#f2f2f2"/>
<rect x="566.40" y="577.63" width="31.21" height="16.57" fill="#f2f2f2"/>
<rect x="598.61" y="577.63" width="31.21" height="16.57" fill="#f2f2f2"/>
<rect x="244.30" y="595.20" width="31.21" height="16.57" fill="#5c2e81"/>
<rect x="276.51" y="595.20" width="31.21" height="16.57" fill="#0571b9"/>
<rect x="308.72" y="595.20" width="31.21" height="16.57" fill="#0571b9"/>
<rect x="340.93" y="595.20" width="31.21" height="16.57" fill="#0571b9"/>
<rect x="373.14" y="595.20" width="31.21" height="16.57" fill="#0571b9"/>
<rect x="405.35" y="595.20" width="31.21" height="16.57" fill="#f2f2f2"/>
<rect x="437.56" y="595.20" width="31.21" height="16.57" fill="#f2f2f2"/>
<rect x="469.77" y="595.20" width="31.21" height="16.57" fill="#f2f2f2"/>
<rect x="501.98" y="595.20" width="31.21" height="16.57" fill="#f2f2f2"/>
<rect x="534.19" y="595.20" width="31.21" height="16.57" fill="#f2f2f2"/>
<rect x="566.40" y="595.20" width="31.21" height="16.57" fill="#f2f2f2"/>
<rect x="598.61" y="595.20" width="31.21" height="16.57" fill="#f2f2f2"/>
<rect x="244.30" y="612.77" width="31.21" height="16.57" fill="#5c2e81"/>
<rect x="276.51" y="612.77" width="31.21" height="16.57" fill="#0571b9"/>
<rect x="308.72" y="612.77" width="31.21" height="16.57" fill="#0571b9"/>
<rect x="340.93" y="612.77" width="31.21" height="16.57" fill="#0571b9"/>
<rect x="373.14" y="612.77" width="31.21" height="16.57" fill="#0571b9"/>
<rect x="405.35" y="612.77" width="31.21" height="16.57" fill="#f2f2f2"/>
<rect x="437.56" y="612.77" width="31.21" height="16.57" fill="#f2f2f2"/>
<rect x="469.77" y="612.77" width="31.21" height="16.57" fill="#f2f2f2"/>
<rect x="501.98" y="612.77" width="31.21" height="16.57" fill="#f2f2f2"/>
<rect x="534.19" y="612.77" width="31.21" height="16.57" fill="#f2f2f2"/>
<rect x="566.40" y="612.77" width="31.21" height="16.57" fill="#f2f2f2"/>
<rect x="598.61" y="612.77" width="31.21" height="16.57" fill="#f2f2f2"/>
<rect x="244.30" y="630.34" width="31.21" height="16.57" fill="#5c2e81"/>
<rect x="276.51" y="630.34" width="31.21" height="16.57" fill="#0571b9"/>
<rect x="308.72" y="630.34" width="31.21" height="16.57" fill="#0571b9"/>
<rect x="340.93" y="630.34" width="31.21" height="16.57" fill="#0571b9"/>
<rect x="373.14" y="630.34" width="31.21" height="16.57" fill="#0571b9"/>
<rect x="405.35" y="630.34" width="31.21" height="16.57" fill="#f2f2f2"/>
<rect x="437.56" y="630.34" width="31.21" height="16.57" fill="#f2f2f2"/>
<rect x="469.77" y="630.34" width="31.21" height="16.57" fill="#f2f2f2"/>
<rect x="501.98" y="630.34" width="31.21" height="16.57" fill="#f2f2f2"/>
<rect x="534.19" y="630.34" width="31.21" height="16.57" fill="#f2f2f2"/>
<rect x="566.40" y="630.34" width="31.21" height="16.57" fill="#f2f2f2"/>
<rect x="598.61" y="630.34" width="31.21" height="16.57" fill="#f2f2f2"/>
<rect x="244.30" y="647.91" width="31.21" height="16.57" fill="#0571b9"/>
<rect x="276.51" y="647.91" width="31.21" height="16.57" fill="#0571b9"/>
<rect x="308.72" y="647.91" width="31.21" height="16.57" fill="#0571b9"/>
<rect x="340.93" y="647.91" width="31.21" height="16.57" fill="#0571b9"/>
<rect x="373.14" y="647.91" width="31.21" height="16.57" fill="#0571b9"/>
<rect x="405.35" y="647.91" width="31.21" height="16.57" fill="#f2f2f2"/>
<rect x="437.56" y="647.91" width="31.21" height="16.57" fill="#f2f2f2"/>
<rect x="469.77" y="647.91" width="31.21" height="16.57" fill="#f2f2f2"/>
<rect x="501.98" y="647.91" width="31.21" height="16.57" fill="#f2f2f2"/>
<rect x="534.19" y="647.91" width="31.21" height="16.57" fill="#f2f2f2"/>
<rect x="566.40" y="647.91" width="31.21" height="16.57" fill="#f2f2f2"/>
<rect x="598.61" y="647.91" width="31.21" height="16.57" fill="#f2f2f2"/>
<rect x="244.30" y="665.48" width="31.21" height="16.57" fill="#f2f2f2"/>
<rect x="276.51" y="665.48" width="31.21" height="16.57" fill="#0571b9"/>
<rect x="308.72" y="665.48" width="31.21" height="16.57" fill="#0571b9"/>
<rect x="340.93" y="665.48" width="31.21" height="16.57" fill="#0571b9"/>
<rect x="373.14" y="665.48" width="31.21" height="16.57" fill="#0571b9"/>
<rect x="405.35" y="665.48" width="31.21" height="16.57" fill="#f2f2f2"/>
<rect x="437.56" y="665.48" width="31.21" height="16.57" fill="#f2f2f2"/>
<rect x="469.77" y="665.48" width="31.21" height="16.57" fill="#f2f2f2"/>
<rect x="501.98" y="665.48" width="31.21" height="16.57" fill="#f2f2f2"/>
<rect x="534.19" y="665.48" width="31.21" height="16.57" fill="#f2f2f2"/>
<rect x="566.40" y="665.48" width="31.21" height="16.57" fill="#f2f2f2"/>
<rect x="598.61" y="665.48" width="31.21" height="16.57" fill="#f2f2f2"/>
<rect x="244.30" y="683.05" width="31.21" height="16.57" fill="#5c2e81"/>
<rect x="276.51" y="683.05" width="31.21" height="16.57" fill="#0571b9"/>
<rect x="308.72" y="683.05" width="31.21" height="16.57" fill="#0571b9"/>
<rect x="340.93" y="683.05" width="31.21" height="16.57" fill="#0571b9"/>
<rect x="373.14" y="683.05" width="31.21" height="16.57" fill="#0571b9"/>
<rect x="405.35" y="683.05" width="31.21" height="16.57" fill="#f2f2f2"/>
<rect x="437.56" y="683.05" width="31.21" height="16.57" fill="#f2f2f2"/>
<rect x="469.77" y="683.05" width="31.21" height="16.57" fill="#f2f2f2"/>
<rect x="501.98" y="683.05" width="31.21" height="16.57" fill="#f2f2f2"/>
<rect x="534.19" y="683.05" width="31.21" height="16.57" fill="#f2f2f2"/>
<rect x="566.40" y="683.05" width="31.21" height="16.57" fill="#f2f2f2"/>
<rect x="598.61" y="683.05" width="31.21" height="16.57" fill="#f2f2f2"/>
<rect x="244.30" y="700.62" width="31.21" height="16.57" fill="#0571b9"/>
<rect x="276.51" y="700.62" width="31.21" height="16.57" fill="#0571b9"/>
<rect x="308.72" y="700.62" width="31.21" height="16.57" fill="#0571b9"/>
<rect x="340.93" y="700.62" width="31.21" height="16.57" fill="#0571b9"/>
<rect x="373.14" y="700.62" width="31.21" height="16.57" fill="#0571b9"/>
<rect x="405.35" y="700.62" width="31.21" height="16.57" fill="#f2f2f2"/>
<rect x="437.56" y="700.62" width="31.21" height="16.57" fill="#f2f2f2"/>
<rect x="469.77" y="700.62" width="31.21" height="16.57" fill="#f2f2f2"/>
<rect x="501.98" y="700.62" width="31.21" height="16.57" fill="#f2f2f2"/>
<rect x="534.19" y="700.62" width="31.21" height="16.57" fill="#0571b9"/>
<rect x="566.40" y="700.62" width="31.21" height="16.57" fill="#f2f2f2"/>
<rect x="598.61" y="700.62" width="31.21" height="16.57" fill="#f2f2f2"/>
<rect x="244.30" y="718.19" width="31.21" height="16.57" fill="#0571b9"/>
<rect x="276.51" y="718.19" width="31.21" height="16.57" fill="#0571b9"/>
<rect x="308.72" y="718.19" width="31.21" height="16.57" fill="#0571b9"/>
<rect x="340.93" y="718.19" width="31.21" height="16.57" fill="#0571b9"/>
<rect x="373.14" y="718.19" width="31.21" height="16.57" fill="#0571b9"/>
<rect x="405.35" y="718.19" width="31.21" height="16.57" fill="#f2f2f2"/>
<rect x="437.56" y="718.19" width="31.21" height="16.57" fill="#f2f2f2"/>
<rect x="469.77" y="718.19" width="31.21" height="16.57" fill="#f2f2f2"/>
<rect x="501.98" y="718.19" width="31.21" height="16.57" fill="#f2f2f2"/>
<rect x="534.19" y="718.19" width="31.21" height="16.57" fill="#f2f2f2"/>
<rect x="566.40" y="718.19" width="31.21" height="16.57" fill="#f2f2f2"/>
<rect x="598.61" y="718.19" width="31.21" height="16.57" fill="#f2f2f2"/>
<rect x="244.30" y="735.76" width="31.21" height="16.57" fill="#0571b9"/>
<rect x="276.51" y="735.76" width="31.21" height="16.57" fill="#0571b9"/>
<rect x="308.72" y="735.76" width="31.21" height="16.57" fill="#0571b9"/>
<rect x="340.93" y="735.76" width="31.21" height="16.57" fill="#0571b9"/>
<rect x="373.14" y="735.76" width="31.21" height="16.57" fill="#0571b9"/>
<rect x="405.35" y="735.76" width="31.21" height="16.57" fill="#f2f2f2"/>
<rect x="437.56" y="735.76" width="31.21" height="16.57" fill="#f2f2f2"/>
<rect x="469.77" y="735.76" width="31.21" height="16.57" fill="#f2f2f2"/>
<rect x="501.98" y="735.76" width="31.21" height="16.57" fill="#f2f2f2"/>
<rect x="534.19" y="735.76" width="31.21" height="16.57" fill="#f2f2f2"/>
<rect x="566.40" y="735.76" width="31.21" height="16.57" fill="#f2f2f2"/>
<rect x="598.61" y="735.76" width="31.21" height="16.57" fill="#f2f2f2"/>
<rect x="244.30" y="753.33" width="31.21" height="16.57" fill="#5c2e81"/>
<rect x="276.51" y="753.33" width="31.21" height="16.57" fill="#0571b9"/>
<rect x="308.72" y="753.33" width="31.21" height="16.57" fill="#0571b9"/>
<rect x="340.93" y="753.33" width="31.21" height="16.57" fill="#0571b9"/>
<rect x="373.14" y="753.33" width="31.21" height="16.57" fill="#0571b9"/>
<rect x="405.35" y="753.33" width="31.21" height="16.57" fill="#f2f2f2"/>
<rect x="437.56" y="753.33" width="31.21" height="16.57" fill="#f2f2f2"/>
<rect x="469.77" y="753.33" width="31.21" height="16.57" fill="#f2f2f2"/>
<rect x="501.98" y="753.33" width="31.21" height="16.57" fill="#f2f2f2"/>
<rect x="534.19" y="753.33" width="31.21" height="16.57" fill="#f2f2f2"/>
<rect x="566.40" y="753.33" width="31.21" height="16.57" fill="#f2f2f2"/>
<rect x="598.61" y="753.33" width="31.21" height="16.57" fill="#0571b9"/>
<rect x="244.30" y="770.90" width="31.21" height="16.57" fill="#0571b9"/>
<rect x="276.51" y="770.90" width="31.21" height="16.57" fill="#0571b9"/>
<rect x="308.72" y="770.90" width="31.21" height="16.57" fill="#0571b9"/>
<rect x="340.93" y="770.90" width="31.21" height="16.57" fill="#0571b9"/>
<rect x="373.14" y="770.90" width="31.21" height="16.57" fill="#0571b9"/>
<rect x="405.35" y="770.90" width="31.21" height="16.57" fill="#0571b9"/>
<rect x="437.56" y="770.90" width="31.21" height="16.57" fill="#f2f2f2"/>
<rect x="469.77" y="770.90" width="31.21" height="16.57" fill="#f2f2f2"/>
<rect x="501.98" y="770.90" width="31.21" height="16.57" fill="#f2f2f2"/>
<rect x="534.19" y="770.90" width="31.21" height="16.57" fill="#f2f2f2"/>
<rect x="566.40" y="770.90" width="31.21" height="16.57" fill="#f2f2f2"/>
<rect x="598.61" y="770.90" width="31.21" height="16.57" fill="#0571b9"/>
<rect x="244.30" y="788.47" width="31.21" height="16.57" fill="#0571b9"/>
<rect x="276.51" y="788.47" width="31.21" height="16.57" fill="#0571b9"/>
<rect x="308.72" y="788.47" width="31.21" height="16.57" fill="#0571b9"/>
<rect x="340.93" y="788.47" width="31.21" height="16.57" fill="#0571b9"/>
<rect x="373.14" y="788.47" width="31.21" height="16.57" fill="#0571b9"/>
<rect x="405.35" y="788.47" width="31.21" height="16.57" fill="#f2f2f2"/>
<rect x="437.56" y="788.47" width="31.21" height="16.57" fill="#f2f2f2"/>
<rect x="469.77" y="788.47" width="31.21" height="16.57" fill="#f2f2f2"/>
<rect x="501.98" y="788.47" width="31.21" height="16.57" fill="#f2f2f2"/>
<rect x="534.19" y="788.47" width="31.21" height="16.57" fill="#f2f2f2"/>
<rect x="566.40" y="788.47" width="31.21" height="16.57" fill="#f2f2f2"/>
<rect x="598.61" y="788.47" width="31.21" height="16.57" fill="#f2f2f2"/>
<rect x="244.30" y="806.04" width="31.21" height="16.57" fill="#5c2e81"/>
<rect x="276.51" y="806.04" width="31.21" height="16.57" fill="#0571b9"/>
<rect x="308.72" y="806.04" width="31.21" height="16.57" fill="#0571b9"/>
<rect x="340.93" y="806.04" width="31.21" height="16.57" fill="#0571b9"/>
<rect x="373.14" y="806.04" width="31.21" height="16.57" fill="#0571b9"/>
<rect x="405.35" y="806.04" width="31.21" height="16.57" fill="#f2f2f2"/>
<rect x="437.56" y="806.04" width="31.21" height="16.57" fill="#f2f2f2"/>
<rect x="469.77" y="806.04" width="31.21" height="16.57" fill="#f2f2f2"/>
<rect x="501.98" y="806.04" width="31.21" height="16.57" fill="#f2f2f2"/>
<rect x="534.19" y="806.04" width="31.21" height="16.57" fill="#f2f2f2"/>
<rect x="566.40" y="806.04" width="31.21" height="16.57" fill="#f2f2f2"/>
<rect x="598.61" y="806.04" width="31.21" height="16.57" fill="#f2f2f2"/>
<rect x="244.30" y="823.61" width="31.21" height="16.57" fill="#0571b9"/>
<rect x="276.51" y="823.61" width="31.21" height="16.57" fill="#0571b9"/>
<rect x="308.72" y="823.61" width="31.21" height="16.57" fill="#0571b9"/>
<rect x="340.93" y="823.61" width="31.21" height="16.57" fill="#0571b9"/>
<rect x="373.14" y="823.61" width="31.21" height="16.57" fill="#0571b9"/>
<rect x="405.35" y="823.61" width="31.21" height="16.57" fill="#f2f2f2"/>
<rect x="437.56" y="823.61" width="31.21" height="16.57" fill="#f2f2f2"/>
<rect x="469.77" y="823.61" width="31.21" height="16.57" fill="#0571b9"/>
<rect x="501.98" y="823.61" width="31.21" height="16.57" fill="#f2f2f2"/>
<rect x="534.19" y="823.61" width="31.21" height="16.57" fill="#f2f2f2"/>
<rect x="566.40" y="823.61" width="31.21" height="16.57" fill="#f2f2f2"/>
<rect x="598.61" y="823.61" width="31.21" height="16.57" fill="#f2f2f2"/>
<rect x="244.30" y="841.18" width="31.21" height="16.57" fill="#f2f2f2"/>
<rect x="276.51" y="841.18" width="31.21" height="16.57" fill="#0571b9"/>
<rect x="308.72" y="841.18" width="31.21" height="16.57" fill="#0571b9"/>
<rect x="340.93" y="841.18" width="31.21" height="16.57" fill="#0571b9"/>
<rect x="373.14" y="841.18" width="31.21" height="16.57" fill="#0571b9"/>
<rect x="405.35" y="841.18" width="31.21" height="16.57" fill="#f2f2f2"/>
<rect x="437.56" y="841.18" width="31.21" height="16.57" fill="#f2f2f2"/>
<rect x="469.77" y="841.18" width="31.21" height="16.57" fill="#f2f2f2"/>
<rect x="501.98" y="841.18" width="31.21" height="16.57" fill="#0571b9"/>
<rect x="534.19" y="841.18" width="31.21" height="16.57" fill="#f2f2f2"/>
<rect x="566.40" y="841.18" width="31.21" height="16.57" fill="#f2f2f2"/>
<rect x="598.61" y="841.18" width="31.21" height="16.57" fill="#f2f2f2"/>
<rect x="244.30" y="858.75" width="31.21" height="16.57" fill="#f2f2f2"/>
<rect x="276.51" y="858.75" width="31.21" height="16.57" fill="#0571b9"/>
<rect x="308.72" y="858.75" width="31.21" height="16.57" fill="#0571b9"/>
<rect x="340.93" y="858.75" width="31.21" height="16.57" fill="#0571b9"/>
<rect x="373.14" y="858.75" width="31.21" height="16.57" fill="#0571b9"/>
<rect x="405.35" y="858.75" width="31.21" height="16.57" fill="#0571b9"/>
<rect x="437.56" y="858.75" width="31.21" height="16.57" fill="#f2f2f2"/>
<rect x="469.77" y="858.75" width="31.21" height="16.57" fill="#0571b9"/>
<rect x="501.98" y="858.75" width="31.21" height="16.57" fill="#f2f2f2"/>
<rect x="534.19" y="858.75" width="31.21" height="16.57" fill="#0571b9"/>
<rect x="566.40" y="858.75" width="31.21" height="16.57" fill="#0571b9"/>
<rect x="598.61" y="858.75" width="31.21" height="16.57" fill="#f2f2f2"/>
<rect x="244.30" y="876.32" width="31.21" height="16.57" fill="#f2f2f2"/>
<rect x="276.51" y="876.32" width="31.21" height="16.57" fill="#0571b9"/>
<rect x="308.72" y="876.32" width="31.21" height="16.57" fill="#0571b9"/>
<rect x="340.93" y="876.32" width="31.21" height="16.57" fill="#0571b9"/>
<rect x="373.14" y="876.32" width="31.21" height="16.57" fill="#0571b9"/>
<rect x="405.35" y="876.32" width="31.21" height="16.57" fill="#f2f2f2"/>
<rect x="437.56" y="876.32" width="31.21" height="16.57" fill="#f2f2f2"/>
<rect x="469.77" y="876.32" width="31.21" height="16.57" fill="#f2f2f2"/>
<rect x="501.98" y="876.32" width="31.21" height="16.57" fill="#f2f2f2"/>
<rect x="534.19" y="876.32" width="31.21" height="16.57" fill="#0571b9"/>
<rect x="566.40" y="876.32" width="31.21" height="16.57" fill="#f2f2f2"/>
<rect x="598.61" y="876.32" width="31.21" height="16.57" fill="#f2f2f2"/>
<rect x="244.30" y="893.89" width="31.21" height="16.57" fill="#0571b9"/>
<rect x="276.51" y="893.89" width="31.21" height="16.57" fill="#0571b9"/>
<rect x="308.72" y="893.89" width="31.21" height="16.57" fill="#0571b9"/>
<rect x="340.93" y="893.89" width="31.21" height="16.57" fill="#0571b9"/>
<rect x="373.14" y="893.89" width="31.21" height="16.57" fill="#0571b9"/>
<rect x="405.35" y="893.89" width="31.21" height="16.57" fill="#f2f2f2"/>
<rect x="437.56" y="893.89" width="31.21" height="16.57" fill="#f2f2f2"/>
<rect x="469.77" y="893.89" width="31.21" height="16.57" fill="#f2f2f2"/>
<rect x="501.98" y="893.89" width="31.21" height="16.57" fill="#0571b9"/>
<rect x="534.19" y="893.89" width="31.21" height="16.57" fill="#f2f2f2"/>
<rect x="566.40" y="893.89" width="31.21" height="16.57" fill="#f2f2f2"/>
<rect x="598.61" y="893.89" width="31.21" height="16.57" fill="#f2f2f2"/>
<rect x="244.30" y="911.46" width="31.21" height="16.57" fill="#f2f2f2"/>
<rect x="276.51" y="911.46" width="31.21" height="16.57" fill="#0571b9"/>
<rect x="308.72" y="911.46" width="31.21" height="16.57" fill="#0571b9"/>
<rect x="340.93" y="911.46" width="31.21" height="16.57" fill="#0571b9"/>
<rect x="373.14" y="911.46" width="31.21" height="16.57" fill="#f2f2f2"/>
<rect x="405.35" y="911.46" width="31.21" height="16.57" fill="#f2f2f2"/>
<rect x="437.56" y="911.46" width="31.21" height="16.57" fill="#f2f2f2"/>
<rect x="469.77" y="911.46" width="31.21" height="16.57" fill="#f2f2f2"/>
<rect x="501.98" y="911.46" width="31.21" height="16.57" fill="#f2f2f2"/>
<rect x="534.19" y="911.46" width="31.21" height="16.57" fill="#f2f2f2"/>
<rect x="566.40" y="911.46" width="31.21" height="16.57" fill="#f2f2f2"/>
<rect x="598.61" y="911.46" width="31.21" height="16.57" fill="#f2f2f2"/>
<rect x="244.30" y="929.03" width="31.21" height="16.57" fill="#f2f2f2"/>
<rect x="276.51" y="929.03" width="31.21" height="16.57" fill="#0571b9"/>
<rect x="308.72" y="929.03" width="31.21" height="16.57" fill="#0571b9"/>
<rect x="340.93" y="929.03" width="31.21" height="16.57" fill="#0571b9"/>
<rect x="373.14" y="929.03" width="31.21" height="16.57" fill="#f2f2f2"/>
<rect x="405.35" y="929.03" width="31.21" height="16.57" fill="#f2f2f2"/>
<rect x="437.56" y="929.03" width="31.21" height="16.57" fill="#f2f2f2"/>
<rect x="469.77" y="929.03" width="31.21" height="16.57" fill="#f2f2f2"/>
<rect x="501.98" y="929.03" width="31.21" height="16.57" fill="#f2f2f2"/>
<rect x="534.19" y="929.03" width="31.21" height="16.57" fill="#f2f2f2"/>
<rect x="566.40" y="929.03" width="31.21" height="16.57" fill="#f2f2f2"/>
<rect x="598.61" y="929.03" width="31.21" height="16.57" fill="#f2f2f2"/>
</g>
<path d="M243.80 67.60V946.10M276.01 67.60V946.10M308.22 67.60V946.10M340.43 67.60V946.10M372.64 67.60V946.10M404.85 67.60V946.10M437.06 67.60V946.10M469.27 67.60V946.10M501.48 67.60V946.10M533.69 67.60V946.10M565.90 67.60V946.10M598.11 67.60V946.10M630.32 67.60V946.10M243.80 67.60H630.32M243.80 85.17H630.32M243.80 102.74H630.32M243.80 120.31H630.32M243.80 137.88H630.32M243.80 155.45H630.32M243.80 173.02H630.32M243.80 190.59H630.32M243.80 208.16H630.32M243.80 225.73H630.32M243.80 243.30H630.32M243.80 260.87H630.32M243.80 278.44H630.32M243.80 296.01H630.32M243.80 313.58H630.32M243.80 331.15H630.32M243.80 348.72H630.32M243.80 366.29H630.32M243.80 383.86H630.32M243.80 401.43H630.32M243.80 419.00H630.32M243.80 436.57H630.32M243.80 454.14H630.32M243.80 471.71H630.32M243.80 489.28H630.32M243.80 506.85H630.32M243.80 524.42H630.32M243.80 541.99H630.32M243.80 559.56H630.32M243.80 577.13H630.32M243.80 594.70H630.32M243.80 612.27H630.32M243.80 629.84H630.32M243.80 647.41H630.32M243.80 664.98H630.32M243.80 682.55H630.32M243.80 700.12H630.32M243.80 717.69H630.32M243.80 735.26H630.32M243.80 752.83H630.32M243.80 770.40H630.32M243.80 787.97H630.32M243.80 805.54H630.32M243.80 823.11H630.32M243.80 840.68H630.32M243.80 858.25H630.32M243.80 875.82H630.32M243.80 893.39H630.32M243.80 910.96H630.32M243.80 928.53H630.32M243.80 946.10H630.32" stroke="#c6c6c6" stroke-width="0.9" fill="none"/>
<g font-size="14" fill="#111" stroke="#111" stroke-width="0.12">
<text transform="translate(263.91 66.8) rotate(-90)">T1SS</text>
<text transform="translate(296.12 66.8) rotate(-90)">T2SS</text>
<text transform="translate(328.33 66.8) rotate(-90)">T4P_loci</text>
<text transform="translate(360.54 66.8) rotate(-90)">MSH</text>
<text transform="translate(392.75 66.8) rotate(-90)">Flagellum</text>
<text transform="translate(424.96 66.8) rotate(-90)">T4SS_1</text>
<text transform="translate(457.17 66.8) rotate(-90)">T4SS_2</text>
<text transform="translate(489.38 66.8) rotate(-90)">T4SS_3</text>
<text transform="translate(521.59 66.8) rotate(-90)">T4SS_4</text>
<text transform="translate(553.80 66.8) rotate(-90)">T4SS_5</text>
<text transform="translate(586.00 66.8) rotate(-90)">T4SS_6_1</text>
<text transform="translate(618.22 66.8) rotate(-90)">T4SS_6_2</text>
</g>
<rect x="680" y="23" width="25.5" height="25.3" fill="#f2f2f2"/>
<rect x="680" y="50.4" width="25.5" height="25.5" fill="#0571b9"/>
<rect x="680" y="78.1" width="25.5" height="25.5" fill="#5c2e81"/>
<g font-size="11" fill="#1a1a1a">
<text x="710.7" y="40.8">Absence</text>
<text x="710.7" y="66.6">Presence (1)</text>
<text x="710.7" y="93.8">Presence (2)</text>
</g>
</svg></body></html>
